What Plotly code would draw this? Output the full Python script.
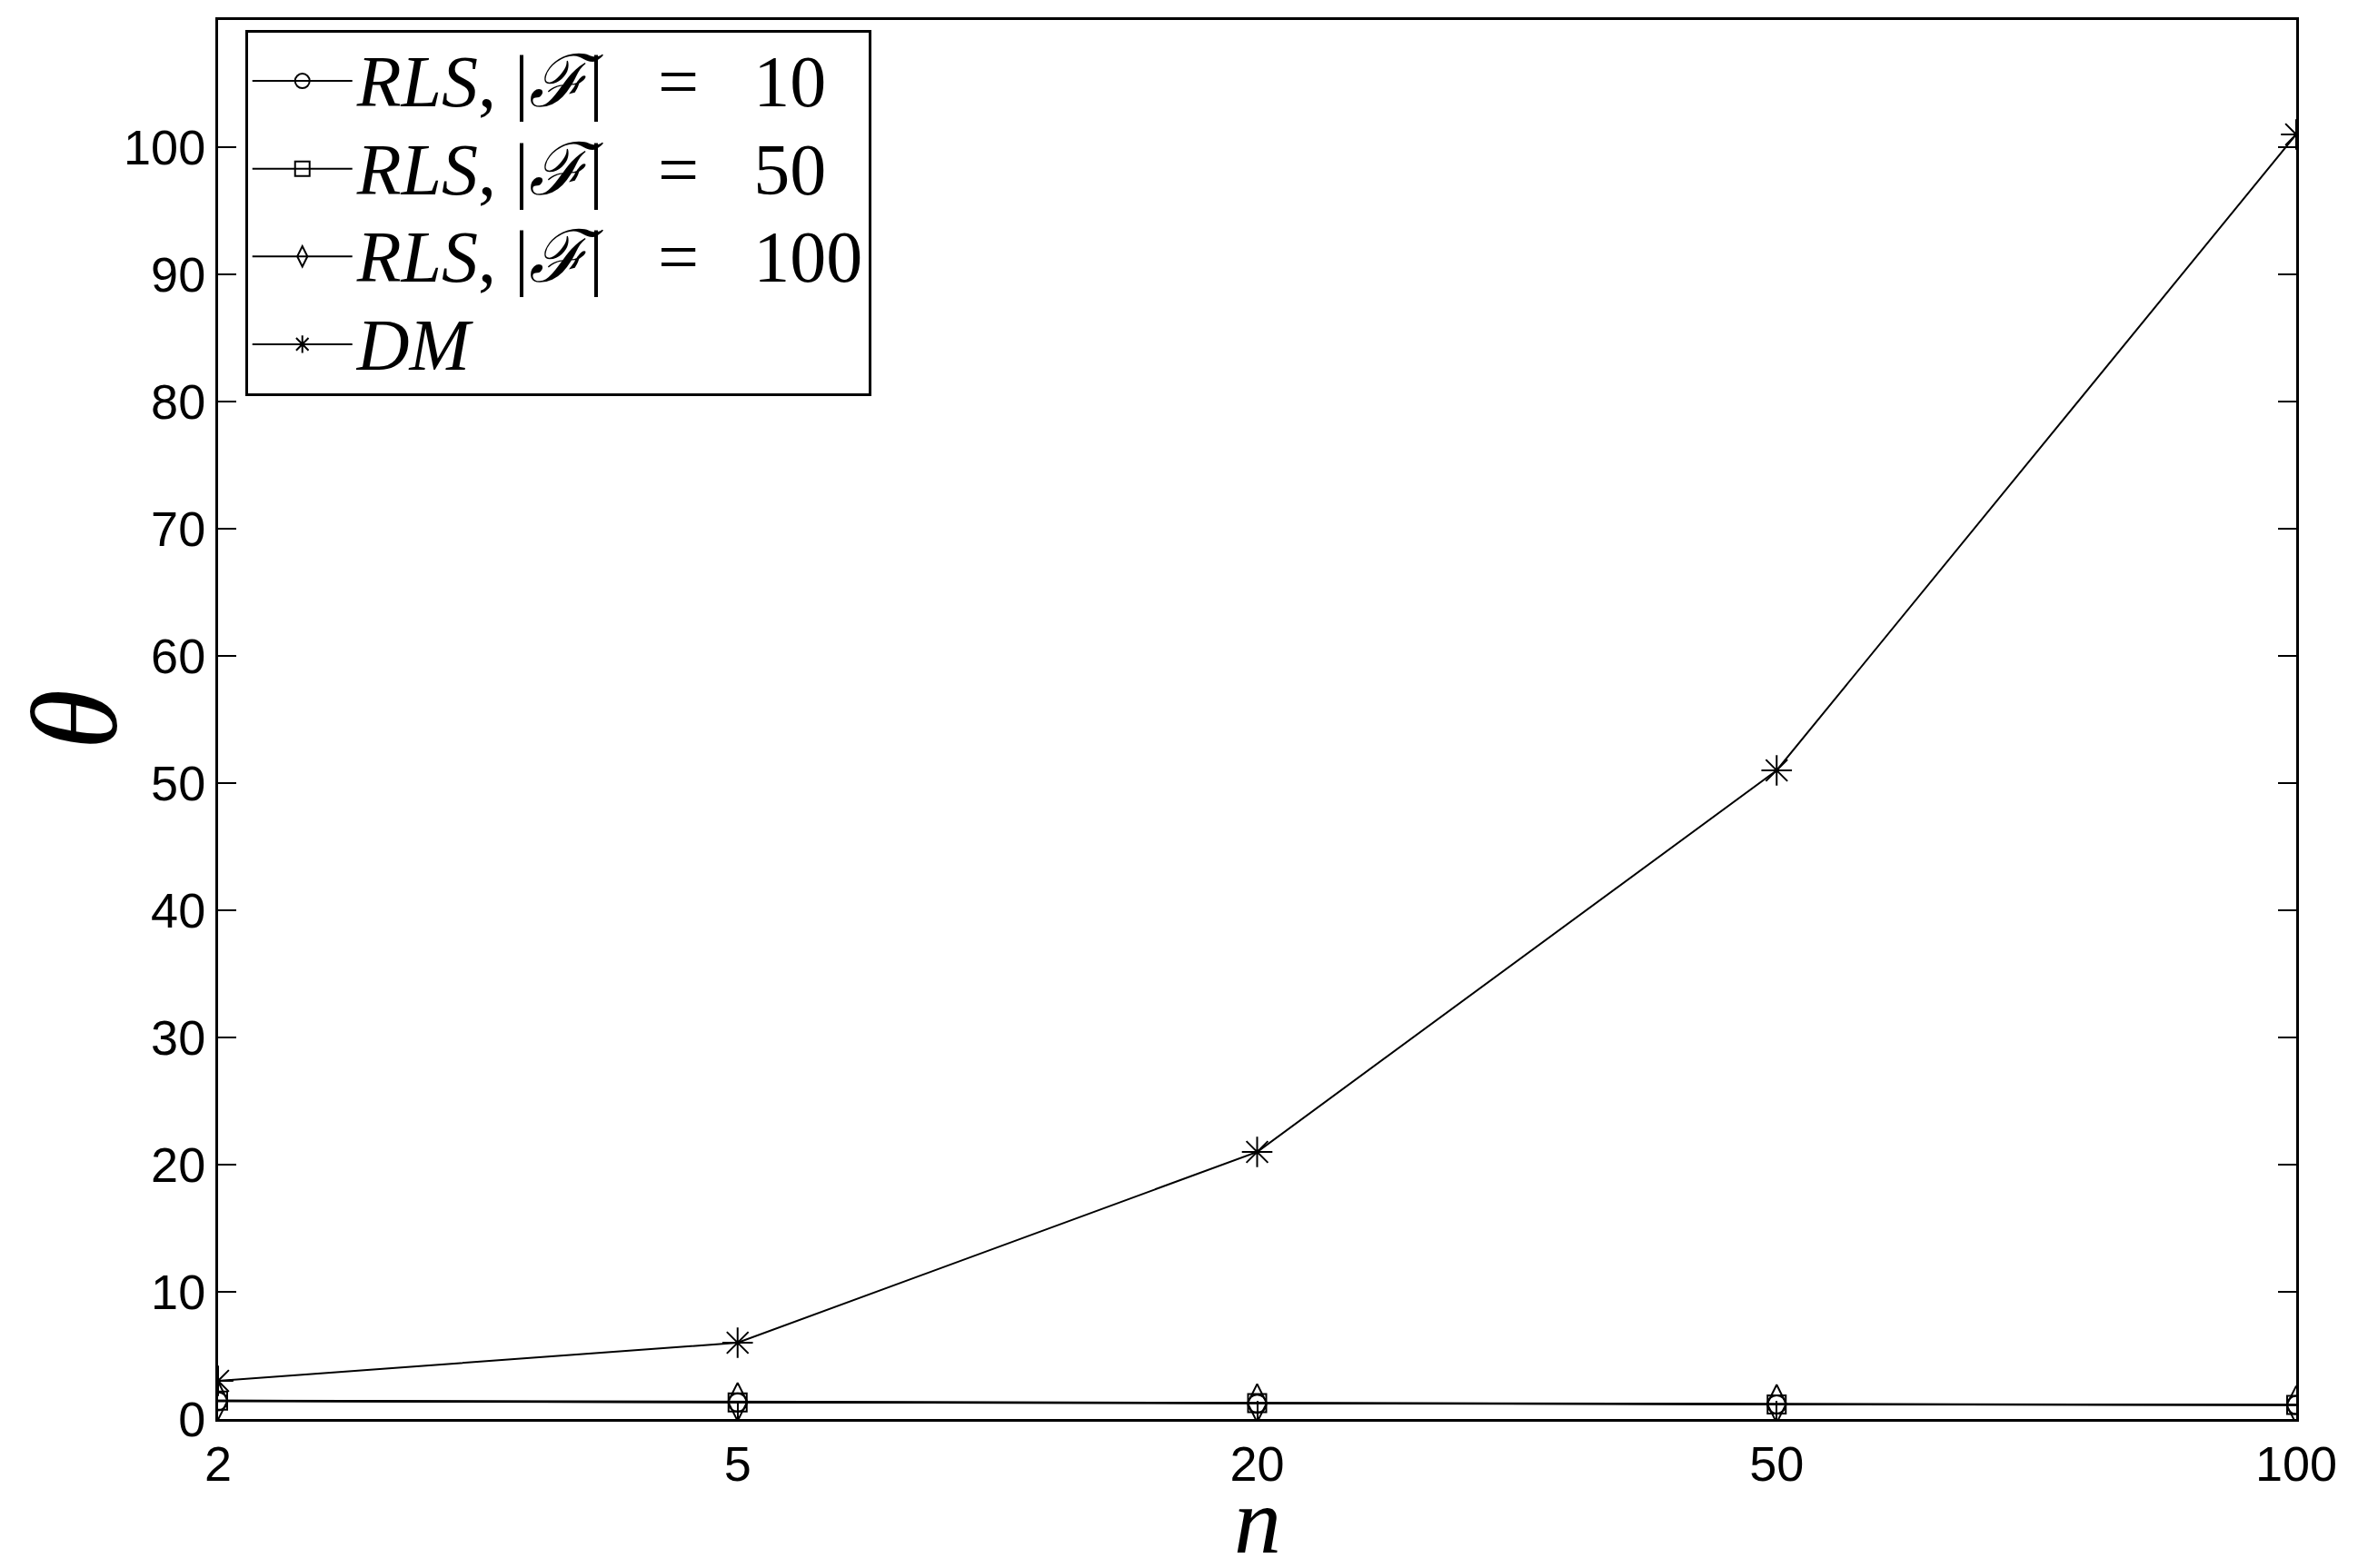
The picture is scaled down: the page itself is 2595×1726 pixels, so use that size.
import plotly.graph_objects as go

# values
n_values = ["2", "5", "20", "50", "100"]
rls_10 = [1.4, 1.3, 1.2, 1.15, 1.1]
rls_50 = [1.45, 1.3, 1.25, 1.15, 1.1]
rls_100 = [1.45, 1.35, 1.25, 1.2, 1.1]
dm = [3, 6, 21, 51, 101]

y_ticks = [0, 10, 20, 30, 40, 50, 60, 70, 80, 90, 100]


def rls_label(size):
    sp = "&nbsp;"
    return (f'<span style="font-size:80px"><i>RLS</i>,{sp}|<i>ℱ</i>|'
            f'{sp * 3}={sp * 3}{size}</span>')


series = [
    (rls_label(10), rls_10, "circle-open", 20),
    (rls_label(50), rls_50, "square-open", 20),
    (rls_label(100), rls_100, "diamond-tall-open", 30),
    ('<span style="font-size:80px"><i>DM</i></span>', dm, "asterisk-open", 28),
]

fig = go.Figure()
for name, vals, symbol, size in series:
    fig.add_trace(go.Scatter(
        x=n_values,
        y=vals,
        mode="lines+markers",
        name=name,
        line=dict(color="black", width=2),
        marker=dict(symbol=symbol, size=size, color="black",
                    line=dict(color="black", width=2)),
    ))

# page body adds an 8px offset, margins compensate for it
fig.update_layout(
    width=2595,
    height=1726,
    paper_bgcolor="white",
    plot_bgcolor="white",
    margin=dict(l=232, r=76, t=14, b=172),
    font=dict(family="Liberation Sans", color="black", size=54),
    legend=dict(
        x=0.013, y=0.993, xanchor="left", yanchor="top",
        bgcolor="white", bordercolor="black", borderwidth=3,
        font=dict(family="Liberation Serif", size=72, color="black"),
        tracegroupgap=0, itemwidth=110,
    ),
    showlegend=True,
)

# x title placed as an annotation so it can sit close under the tick labels
fig.add_annotation(
    text="<i>n</i>", x=0.5, xref="paper", y=-0.111, yref="paper",
    xanchor="center", yanchor="bottom", showarrow=False,
    font=dict(family="Liberation Serif", size=104, color="black"),
)

fig.update_xaxes(
    type="category",
    range=[0, 4],
    automargin=False,
    showline=True, linecolor="black", linewidth=3, mirror=True,
    ticks="inside", ticklen=20, tickcolor="black", tickwidth=2,
    showgrid=False, zeroline=False,
    tickfont=dict(family="Liberation Sans", size=54),
)
fig.update_yaxes(
    range=[0, 110],
    tickvals=y_ticks,
    automargin=False,
    showline=True, linecolor="black", linewidth=3, mirror="ticks",
    ticks="inside", ticklen=20, tickcolor="black", tickwidth=2,
    showgrid=False, zeroline=False,
    tickfont=dict(family="Liberation Sans", size=54),
    title=dict(text="<i>θ</i>", font=dict(family="Liberation Serif", size=135), standoff=28),
)

fig.write_html("out.html")
